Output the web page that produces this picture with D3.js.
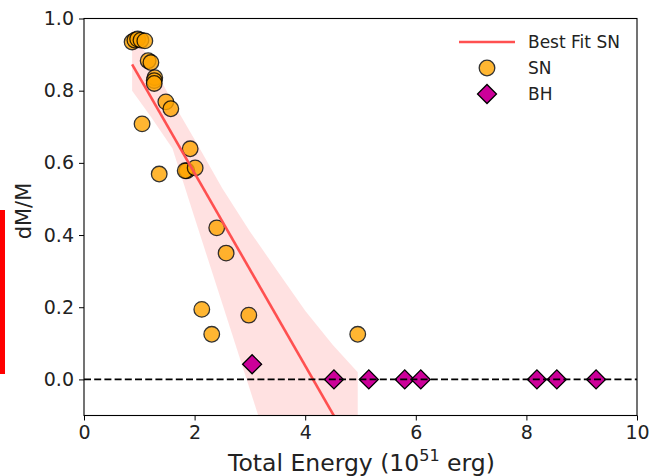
<!DOCTYPE html>
<html>
<head>
<meta charset="utf-8">
<script src="https://cdn.jsdelivr.net/npm/d3@7"></script>
<style>
  html, body { margin: 0; padding: 0; background: #fff; }
  svg { display: block; font-family: "DejaVu Sans", sans-serif; }
</style>
</head>
<body>
<svg id="chart" width="653" height="476"></svg>
<script>
// Supernova (SN) runs: total explosion energy vs. ejected mass fraction
const snEnergy = [0.87, 0.92, 0.97, 1.03, 1.10, 1.16, 1.21, 1.28, 1.27, 1.27,
                  1.48, 1.57, 1.05, 1.92, 1.86, 1.83, 2.01, 1.36, 2.40, 2.57,
                  2.13, 2.98, 2.31, 4.95];
const snDM = [0.935, 0.940, 0.943, 0.940, 0.938, 0.883, 0.878, 0.836, 0.828, 0.820,
              0.769, 0.750, 0.708, 0.639, 0.578, 0.578, 0.586, 0.569, 0.420, 0.350,
              0.194, 0.178, 0.125, 0.125];

// Black hole (BH) runs
const bhEnergy = [3.04, 4.52, 5.15, 5.80, 6.09, 8.19, 8.55, 9.26];
const bhDM = [0.042, 0, 0, 0, 0, 0, 0, 0];

// Linear best fit to the SN runs and its confidence band
const fitIntercept = 1.105;
const fitSlope = -0.2668;
const bandX    = [0.87, 1.2, 1.6, 2.0, 2.5, 3.0, 3.5, 4.0, 4.5, 4.95];
const bandLow  = [0.80, 0.73, 0.64, 0.448, 0.21, -0.028, -0.267, -0.505, -0.744, -0.96];
const bandHigh = [0.97, 0.88, 0.77, 0.665, 0.53, 0.41, 0.30, 0.19, 0.095, 0.02];

// Axis ticks
const xTicks = [0, 2, 4, 6, 8, 10];
const yTicks = [0.0, 0.2, 0.4, 0.6, 0.8, 1.0];

const svg = d3.select("#chart");
const x = d3.scaleLinear().domain([0, 10]).range([84, 637]);
const y = d3.scaleLinear().domain([-0.1, 1.0]).range([415.5, 18.5]);

const fitRed = "#ff5050";

// side marker
svg.append("rect").attr("x", 0).attr("y", 210).attr("width", 5).attr("height", 164)
  .attr("fill", "#ff0000");

svg.append("defs").append("clipPath").attr("id", "plotClip")
  .append("rect").attr("x", x(0)).attr("y", y(1.0))
  .attr("width", x(10) - x(0)).attr("height", y(-0.1) - y(1.0));

const plot = svg.append("g").attr("clip-path", "url(#plotClip)");

// confidence band
const bandData = bandX.map((v, i) => ({ x: v, lo: bandLow[i], hi: bandHigh[i] }));
plot.append("path")
  .datum(bandData)
  .attr("d", d3.area().x(d => x(d.x)).y0(d => y(d.lo)).y1(d => y(d.hi)))
  .attr("fill", fitRed).attr("fill-opacity", 0.17);

// SN scatter
plot.selectAll("circle.sn").data(snEnergy.map((v, i) => [v, snDM[i]]))
  .join("circle").attr("class", "sn")
  .attr("cx", d => x(d[0])).attr("cy", d => y(d[1])).attr("r", 7.8)
  .attr("fill", "#ffa500").attr("stroke", "#000").attr("stroke-width", 1.3)
  .attr("opacity", 0.8);

// best-fit line over the SN energy range
const fitX = [d3.min(snEnergy), d3.max(snEnergy)];
plot.append("line")
  .attr("x1", x(fitX[0])).attr("y1", y(fitIntercept + fitSlope * fitX[0]))
  .attr("x2", x(fitX[1])).attr("y2", y(fitIntercept + fitSlope * fitX[1]))
  .attr("stroke", fitRed).attr("stroke-width", 2.6);

// BH diamonds
const diamond = d3.symbol().type(d3.symbolSquare).size(180);
plot.selectAll("path.bh").data(bhEnergy.map((v, i) => [v, bhDM[i]]))
  .join("path").attr("class", "bh")
  .attr("d", diamond)
  .attr("transform", d => `translate(${x(d[0])},${y(d[1])}) rotate(45)`)
  .attr("fill", "#cc0099").attr("stroke", "#000").attr("stroke-width", 1.3);

// zero reference line
plot.append("line")
  .attr("x1", x(0)).attr("x2", x(10)).attr("y1", y(0)).attr("y2", y(0))
  .attr("stroke", "#000").attr("stroke-width", 1.6).attr("stroke-dasharray", "7,3.2");

// axes
const xAxis = d3.axisBottom(x).tickValues(xTicks).tickFormat(d3.format("d"))
  .tickSizeInner(5).tickSizeOuter(0).tickPadding(5);
const yAxis = d3.axisLeft(y).tickValues(yTicks).tickFormat(d3.format(".1f"))
  .tickSizeInner(5).tickSizeOuter(0).tickPadding(5);

const gx = svg.append("g").attr("transform", `translate(0,${y(-0.1)})`).call(xAxis);
const gy = svg.append("g").attr("transform", `translate(${x(0)},0)`).call(yAxis);
[gx, gy].forEach(g => {
  g.select(".domain").remove();
  g.selectAll("line").attr("stroke", "#000").attr("stroke-width", 1);
  g.selectAll("text").style("font-size", "19px").attr("fill", "#222")
    .style("font-family", "'DejaVu Sans', sans-serif");
});

// frame
svg.append("rect")
  .attr("x", x(0)).attr("y", y(1.0))
  .attr("width", x(10) - x(0)).attr("height", y(-0.1) - y(1.0))
  .attr("fill", "none").attr("stroke", "#000").attr("stroke-width", 1.1);

// axis titles
const xl = svg.append("text").attr("x", (x(0) + x(10)) / 2 + 1).attr("y", 470.5)
  .attr("text-anchor", "middle").style("font-size", "23.5px").attr("fill", "#222");
xl.append("tspan").text("Total Energy (10");
xl.append("tspan").style("font-size", "16px").attr("dy", -9.5).text("51");
xl.append("tspan").attr("dy", 9.5).text(" erg)");

svg.append("text")
  .attr("transform", `translate(31,211) rotate(-90)`)
  .attr("text-anchor", "middle").style("font-size", "21px").attr("fill", "#222")
  .text("dM/M");

// legend
const lg = svg.append("g").style("font-size", "17px").attr("fill", "#222");
lg.append("line").attr("x1", 459).attr("x2", 515).attr("y1", 42).attr("y2", 42)
  .attr("stroke", fitRed).attr("stroke-width", 2.6);
lg.append("circle").attr("cx", 487).attr("cy", 68).attr("r", 7.8)
  .attr("fill", "#ffa500").attr("stroke", "#000").attr("stroke-width", 1.3)
  .attr("opacity", 0.8);
lg.append("path").attr("d", diamond)
  .attr("transform", "translate(487,94) rotate(45)")
  .attr("fill", "#cc0099").attr("stroke", "#000").attr("stroke-width", 1.3);
const legendLabels = ["Best Fit SN", "SN", "BH"];
const legendY = [42, 68, 94];
lg.selectAll("text").data(legendLabels).join("text")
  .attr("x", 528).attr("y", (d, i) => legendY[i]).attr("dy", "0.36em")
  .text(d => d);
</script>
</body>
</html>
